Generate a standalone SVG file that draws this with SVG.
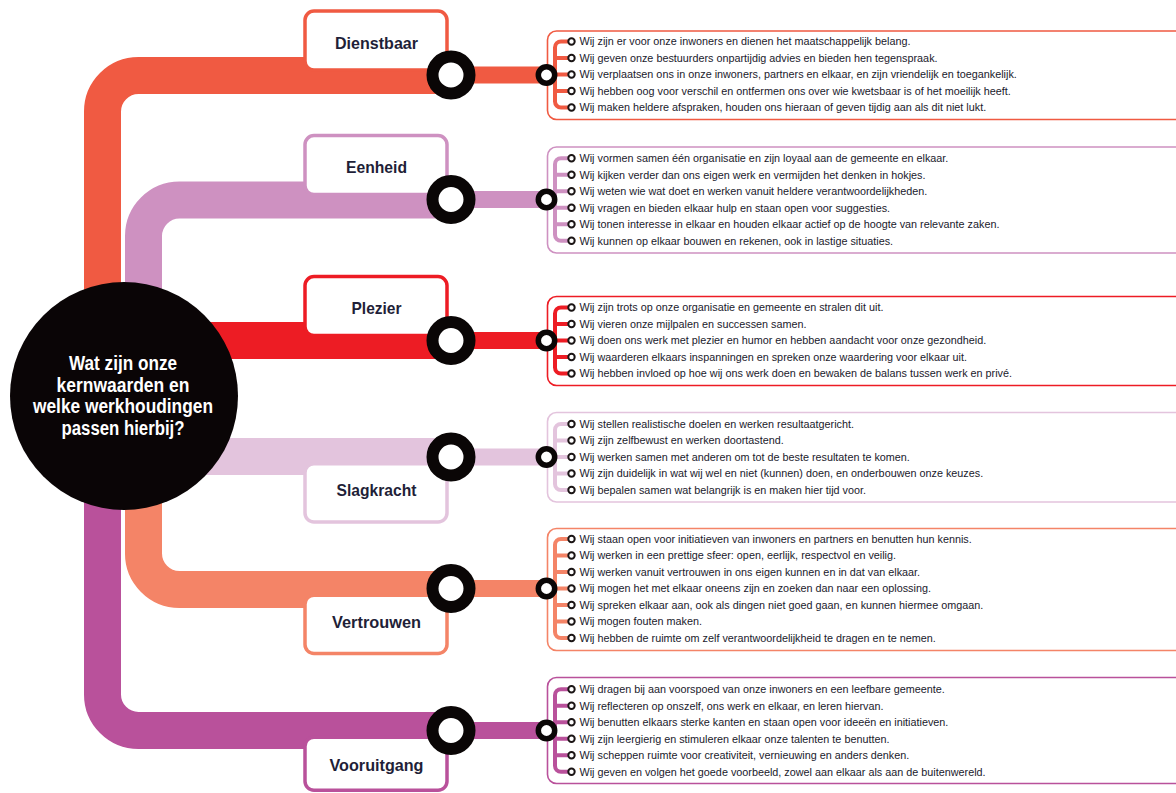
<svg xmlns="http://www.w3.org/2000/svg" width="1176" height="793" viewBox="0 0 1176 793">
<style>
.band{fill:none;stroke-width:37}
.link{fill:none;stroke-width:17}
.bus{fill:none;stroke-width:4;stroke-linecap:round;stroke-linejoin:round}
.panel{fill:#fff;stroke-width:1.6}
.box{fill:#fff;stroke-width:3.5}
.bigring{fill:#fff;stroke:#0a0606;stroke-width:12}
.smallring{fill:#fff;stroke:#0a0606;stroke-width:5.5}
.dot{fill:#fff;stroke:#1a1414;stroke-width:2}
.lbl{font-family:"Liberation Sans",Arial,sans-serif;font-weight:bold;font-size:17px;fill:#1f1f38;text-anchor:middle}
.ctr{font-family:"Liberation Sans",Arial,sans-serif;font-weight:bold;font-size:20px;fill:#fff;text-anchor:middle}
.st{font-family:"Liberation Sans",Arial,sans-serif;font-size:11.5px;fill:#1a1a2c}
.c1{stroke:#f05a42}.c2{stroke:#ce91c1}.c3{stroke:#ed1c24}.c4{stroke:#e3c4dd}.c5{stroke:#f48467}.c6{stroke:#b9519b}
</style>
<rect width="1176" height="793" fill="#fff"/>
<g id="connectors">
<path class="band c1" d="M102.5,330 V111.5 A36,36 0 0 1 138.5,75.5 H451"/>
<path class="band c2" d="M143.5,330 V236 A36,36 0 0 1 179.5,200 H451"/>
<path class="band c3" d="M150,340.5 H451"/>
<path class="band c4" d="M150,456.5 H451"/>
<path class="band c5" d="M143.5,470 V553 A36,36 0 0 0 179.5,589.5 H451"/>
<path class="band c6" d="M102.5,470 V694.5 A36,36 0 0 0 138.5,730.5 H451"/>
<path class="link c1" d="M451,75 H546.5"/>
<path class="link c2" d="M451,199.5 H546.5"/>
<path class="link c3" d="M451,340.5 H546.5"/>
<path class="link c4" d="M451,457 H546.5"/>
<path class="link c5" d="M451,588.5 H546.5"/>
<path class="link c6" d="M451,730.5 H546.5"/>
</g>
<g id="center">
<circle cx="124" cy="396" r="114" fill="#0a0506"/>
<text class="ctr" x="123" y="370" textLength="108" lengthAdjust="spacingAndGlyphs">Wat zijn onze</text>
<text class="ctr" x="123" y="391.5" textLength="133" lengthAdjust="spacingAndGlyphs">kernwaarden en</text>
<text class="ctr" x="123" y="413" textLength="180" lengthAdjust="spacingAndGlyphs">welke werkhoudingen</text>
<text class="ctr" x="123" y="434.5" textLength="123" lengthAdjust="spacingAndGlyphs">passen hierbij?</text>
</g>
<g id="dienstbaar">
<rect class="box c1" x="305" y="11.1" width="142" height="59" rx="9"/>
<text class="lbl" x="376.5" y="48.5" textLength="83" lengthAdjust="spacingAndGlyphs">Dienstbaar</text>
<circle class="bigring" cx="451" cy="75" r="18.5"/>
</g>
<g id="eenheid">
<rect class="box c2" x="305" y="135.6" width="142" height="59" rx="9"/>
<text class="lbl" x="376.5" y="173" textLength="61" lengthAdjust="spacingAndGlyphs">Eenheid</text>
<circle class="bigring" cx="451" cy="199.5" r="18.5"/>
</g>
<g id="plezier">
<rect class="box c3" x="305" y="276.6" width="142" height="59" rx="9"/>
<text class="lbl" x="376.5" y="314" textLength="50" lengthAdjust="spacingAndGlyphs">Plezier</text>
<circle class="bigring" cx="451" cy="340.5" r="18.5"/>
</g>
<g id="slagkracht">
<rect class="box c4" x="305" y="463.75" width="142" height="58.25" rx="9"/>
<text class="lbl" x="376.5" y="496" textLength="80" lengthAdjust="spacingAndGlyphs">Slagkracht</text>
<circle class="bigring" cx="451" cy="457" r="18.5"/>
</g>
<g id="vertrouwen">
<rect class="box c5" x="305" y="595.25" width="142" height="58.25" rx="9"/>
<text class="lbl" x="376.5" y="628" textLength="89" lengthAdjust="spacingAndGlyphs">Vertrouwen</text>
<circle class="bigring" cx="451" cy="588.5" r="18.5"/>
</g>
<g id="vooruitgang">
<rect class="box c6" x="305" y="737.25" width="142" height="53" rx="9"/>
<text class="lbl" x="376.5" y="770.5" textLength="94" lengthAdjust="spacingAndGlyphs">Vooruitgang</text>
<circle class="bigring" cx="451" cy="730.5" r="18.5"/>
</g>

<g id="panel-dienstbaar">
<rect class="panel c1" x="547.5" y="31" width="660" height="88.5" rx="9"/>
<path class="bus c1" d="M568,41.5 H561 A6,6 0 0 0 555,47.5 V101.5 A6,6 0 0 0 561,107.5 H568 M555,58 H568 M555,74.5 H568 M555,91 H568"/>
<circle class="smallring" cx="546.5" cy="75" r="8.2"/>
<circle class="dot" cx="571.5" cy="41.5" r="3.2"/><circle class="dot" cx="571.5" cy="58" r="3.2"/><circle class="dot" cx="571.5" cy="74.5" r="3.2"/><circle class="dot" cx="571.5" cy="91" r="3.2"/><circle class="dot" cx="571.5" cy="107.5" r="3.2"/>
<g transform="translate(579.5 0) scale(0.94 1)">
<text class="st" x="0" y="45.5">Wij zijn er voor onze inwoners en dienen het maatschappelijk belang.</text>
<text class="st" x="0" y="62">Wij geven onze bestuurders onpartijdig advies en bieden hen tegenspraak.</text>
<text class="st" x="0" y="78.5">Wij verplaatsen ons in onze inwoners, partners en elkaar, en zijn vriendelijk en toegankelijk.</text>
<text class="st" x="0" y="95">Wij hebben oog voor verschil en ontfermen ons over wie kwetsbaar is of het moeilijk heeft.</text>
<text class="st" x="0" y="111.5">Wij maken heldere afspraken, houden ons hieraan of geven tijdig aan als dit niet lukt.</text>
</g>
</g>

<g id="panel-eenheid">
<rect class="panel c2" x="547.5" y="147" width="660" height="106" rx="9"/>
<path class="bus c2" d="M568,158.25 H561 A6,6 0 0 0 555,164.25 V234.75 A6,6 0 0 0 561,240.75 H568 M555,174.75 H568 M555,191.25 H568 M555,207.75 H568 M555,224.25 H568"/>
<circle class="smallring" cx="546.5" cy="199.5" r="8.2"/>
<circle class="dot" cx="571.5" cy="158.25" r="3.2"/><circle class="dot" cx="571.5" cy="174.75" r="3.2"/><circle class="dot" cx="571.5" cy="191.25" r="3.2"/><circle class="dot" cx="571.5" cy="207.75" r="3.2"/><circle class="dot" cx="571.5" cy="224.25" r="3.2"/><circle class="dot" cx="571.5" cy="240.75" r="3.2"/>
<g transform="translate(579.5 0) scale(0.94 1)">
<text class="st" x="0" y="162.25">Wij vormen samen één organisatie en zijn loyaal aan de gemeente en elkaar.</text>
<text class="st" x="0" y="178.75">Wij kijken verder dan ons eigen werk en vermijden het denken in hokjes.</text>
<text class="st" x="0" y="195.25">Wij weten wie wat doet en werken vanuit heldere verantwoordelijkheden.</text>
<text class="st" x="0" y="211.75">Wij vragen en bieden elkaar hulp en staan open voor suggesties.</text>
<text class="st" x="0" y="228.25">Wij tonen interesse in elkaar en houden elkaar actief op de hoogte van relevante zaken.</text>
<text class="st" x="0" y="244.75">Wij kunnen op elkaar bouwen en rekenen, ook in lastige situaties.</text>
</g>
</g>

<g id="panel-plezier">
<rect class="panel c3" x="547.5" y="296.5" width="660" height="89" rx="9"/>
<path class="bus c3" d="M568,307.5 H561 A6,6 0 0 0 555,313.5 V367.5 A6,6 0 0 0 561,373.5 H568 M555,324 H568 M555,340.5 H568 M555,357 H568"/>
<circle class="smallring" cx="546.5" cy="340.5" r="8.2"/>
<circle class="dot" cx="571.5" cy="307.5" r="3.2"/><circle class="dot" cx="571.5" cy="324" r="3.2"/><circle class="dot" cx="571.5" cy="340.5" r="3.2"/><circle class="dot" cx="571.5" cy="357" r="3.2"/><circle class="dot" cx="571.5" cy="373.5" r="3.2"/>
<g transform="translate(579.5 0) scale(0.94 1)">
<text class="st" x="0" y="311.5">Wij zijn trots op onze organisatie en gemeente en stralen dit uit.</text>
<text class="st" x="0" y="328">Wij vieren onze mijlpalen en successen samen.</text>
<text class="st" x="0" y="344.5">Wij doen ons werk met plezier en humor en hebben aandacht voor onze gezondheid.</text>
<text class="st" x="0" y="361">Wij waarderen elkaars inspanningen en spreken onze waardering voor elkaar uit.</text>
<text class="st" x="0" y="377.5">Wij hebben invloed op hoe wij ons werk doen en bewaken de balans tussen werk en privé.</text>
</g>
</g>

<g id="panel-slagkracht">
<rect class="panel c4" x="547.5" y="412.5" width="660" height="89.5" rx="9"/>
<path class="bus c4" d="M568,424 H561 A6,6 0 0 0 555,430 V484 A6,6 0 0 0 561,490 H568 M555,440.5 H568 M555,457 H568 M555,473.5 H568"/>
<circle class="smallring" cx="546.5" cy="457" r="8.2"/>
<circle class="dot" cx="571.5" cy="424" r="3.2"/><circle class="dot" cx="571.5" cy="440.5" r="3.2"/><circle class="dot" cx="571.5" cy="457" r="3.2"/><circle class="dot" cx="571.5" cy="473.5" r="3.2"/><circle class="dot" cx="571.5" cy="490" r="3.2"/>
<g transform="translate(579.5 0) scale(0.94 1)">
<text class="st" x="0" y="428">Wij stellen realistische doelen en werken resultaatgericht.</text>
<text class="st" x="0" y="444.5">Wij zijn zelfbewust en werken doortastend.</text>
<text class="st" x="0" y="461">Wij werken samen met anderen om tot de beste resultaten te komen.</text>
<text class="st" x="0" y="477.5">Wij zijn duidelijk in wat wij wel en niet (kunnen) doen, en onderbouwen onze keuzes.</text>
<text class="st" x="0" y="494">Wij bepalen samen wat belangrijk is en maken hier tijd voor.</text>
</g>
</g>

<g id="panel-vertrouwen">
<rect class="panel c5" x="547.5" y="528.5" width="660" height="122" rx="9"/>
<path class="bus c5" d="M568,539 H561 A6,6 0 0 0 555,545 V632 A6,6 0 0 0 561,638 H568 M555,555.5 H568 M555,572 H568 M555,588.5 H568 M555,605 H568 M555,621.5 H568"/>
<circle class="smallring" cx="546.5" cy="588.5" r="8.2"/>
<circle class="dot" cx="571.5" cy="539" r="3.2"/><circle class="dot" cx="571.5" cy="555.5" r="3.2"/><circle class="dot" cx="571.5" cy="572" r="3.2"/><circle class="dot" cx="571.5" cy="588.5" r="3.2"/><circle class="dot" cx="571.5" cy="605" r="3.2"/><circle class="dot" cx="571.5" cy="621.5" r="3.2"/><circle class="dot" cx="571.5" cy="638" r="3.2"/>
<g transform="translate(579.5 0) scale(0.94 1)">
<text class="st" x="0" y="543">Wij staan open voor initiatieven van inwoners en partners en benutten hun kennis.</text>
<text class="st" x="0" y="559.5">Wij werken in een prettige sfeer: open, eerlijk, respectvol en veilig.</text>
<text class="st" x="0" y="576">Wij werken vanuit vertrouwen in ons eigen kunnen en in dat van elkaar.</text>
<text class="st" x="0" y="592.5">Wij mogen het met elkaar oneens zijn en zoeken dan naar een oplossing.</text>
<text class="st" x="0" y="609">Wij spreken elkaar aan, ook als dingen niet goed gaan, en kunnen hiermee omgaan.</text>
<text class="st" x="0" y="625.5">Wij mogen fouten maken.</text>
<text class="st" x="0" y="642">Wij hebben de ruimte om zelf verantwoordelijkheid te dragen en te nemen.</text>
</g>
</g>

<g id="panel-vooruitgang">
<rect class="panel c6" x="547.5" y="677.5" width="660" height="106" rx="9"/>
<path class="bus c6" d="M568,689.25 H561 A6,6 0 0 0 555,695.25 V765.75 A6,6 0 0 0 561,771.75 H568 M555,705.75 H568 M555,722.25 H568 M555,738.75 H568 M555,755.25 H568"/>
<circle class="smallring" cx="546.5" cy="730.5" r="8.2"/>
<circle class="dot" cx="571.5" cy="689.25" r="3.2"/><circle class="dot" cx="571.5" cy="705.75" r="3.2"/><circle class="dot" cx="571.5" cy="722.25" r="3.2"/><circle class="dot" cx="571.5" cy="738.75" r="3.2"/><circle class="dot" cx="571.5" cy="755.25" r="3.2"/><circle class="dot" cx="571.5" cy="771.75" r="3.2"/>
<g transform="translate(579.5 0) scale(0.94 1)">
<text class="st" x="0" y="693.25">Wij dragen bij aan voorspoed van onze inwoners en een leefbare gemeente.</text>
<text class="st" x="0" y="709.75">Wij reflecteren op onszelf, ons werk en elkaar, en leren hiervan.</text>
<text class="st" x="0" y="726.25">Wij benutten elkaars sterke kanten en staan open voor ideeën en initiatieven.</text>
<text class="st" x="0" y="742.75">Wij zijn leergierig en stimuleren elkaar onze talenten te benutten.</text>
<text class="st" x="0" y="759.25">Wij scheppen ruimte voor creativiteit, vernieuwing en anders denken.</text>
<text class="st" x="0" y="775.75">Wij geven en volgen het goede voorbeeld, zowel aan elkaar als aan de buitenwereld.</text>
</g>
</g>
</svg>
